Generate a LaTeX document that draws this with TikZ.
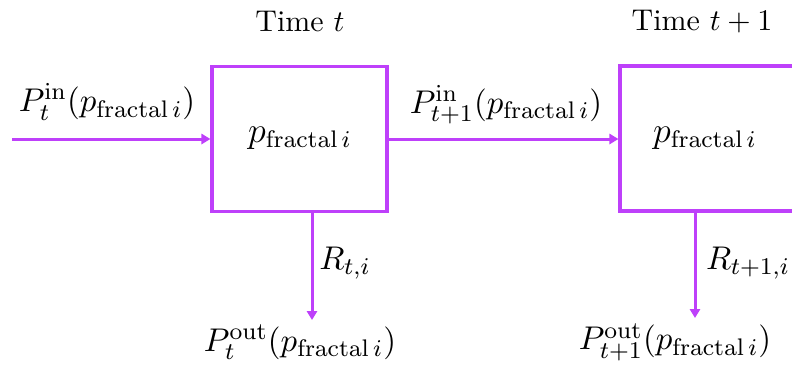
\documentclass[tikz,border=0pt]{standalone}
\usetikzlibrary{arrows.meta}
\definecolor{mag}{RGB}{190,64,250}
\begin{document}
\begin{tikzpicture}[x=0.33333pt,y=-0.33333pt,
  boxst/.style={draw=mag,line width=1.05pt,minimum width=58.33pt,minimum height=48.33pt,inner sep=0pt},
  arr/.style={draw=mag,line width=1pt,-{Triangle[width=3.4pt,length=3pt]}},
  lbl/.style={inner sep=0pt},
  mlbl/.style={inner sep=0pt,font=\fontsize{11}{13}\selectfont},
  blbl/.style={inner sep=0pt,font=\large}]
\useasboundingbox (0,0) rectangle (792,364);
\clip (0,0) rectangle (792,364);
\node[boxst] (b1) at (299.5,139) {};
\node[boxst] (b2) at (707.5,138.5) {};
\node[blbl] (c1) at (300,138) {$p_{\mathrm{fractal}\,i}$};
\node[blbl] (c2) at (705,138) {$p_{\mathrm{fractal}\,i}$};
\node[lbl] (t1) at (300,22) {Time $t$};
\node[lbl] (t2) at (702,22) {Time $t+1$};
\coordinate (s) at (12,139);
\coordinate (o1) at (312,320);
\coordinate (o2) at (695,318);
\draw[arr] (s) -- (b1.west);
\draw[arr] (b1.east) -- (b1.east -| b2.west);
\draw[arr] (o1 |- b1.south) -- (o1);
\draw[arr] (o2 |- b2.south) -- (o2);
\node[mlbl] (l1) at (107,102) {$P_t^{\mathrm{in}}(p_{\mathrm{fractal}\,i})$};
\node[mlbl] (l2) at (506,105) {$P_{t+1}^{\mathrm{in}}(p_{\mathrm{fractal}\,i})$};
\node[mlbl] (r1) at (345,263) {$R_{t,i}$};
\node[mlbl] (r2) at (748,263) {$R_{t+1,i}$};
\node[mlbl] (p1) at (300,342) {$P_t^{\mathrm{out}}(p_{\mathrm{fractal}\,i})$};
\node[mlbl] (p2) at (675,342) {$P_{t+1}^{\mathrm{out}}(p_{\mathrm{fractal}\,i})$};
\end{tikzpicture}
\end{document}
